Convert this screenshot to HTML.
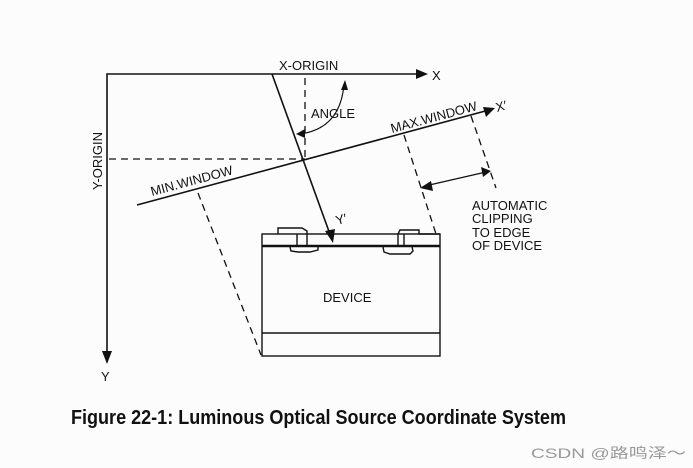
<!DOCTYPE html>
<html><head><meta charset="utf-8"><style>
html,body{margin:0;padding:0;background:#fcfcfc;}
svg{display:block;}
text{font-family:"Liberation Sans",sans-serif;fill:#111;}
</style></head><body>
<svg width="693" height="468" viewBox="0 0 693 468" xmlns="http://www.w3.org/2000/svg">
<rect width="693" height="468" fill="#fcfcfc"/>
<g stroke="#111" fill="none" stroke-width="1.6">
  <!-- axes -->
  <polyline points="107,362 107,74 418,74"/>
  <!-- Y' line -->
  <line x1="272" y1="74" x2="331" y2="237"/>
  <!-- X' line -->
  <line x1="137" y1="205" x2="489" y2="110"/>
  <!-- double arrow -->
  <line x1="425" y1="186" x2="486" y2="172" stroke-width="1.3"/>
  <!-- angle curve -->
  <path d="M344,84 C342,110 330,130 300,134" stroke-width="1.2"/>
</g>
<g stroke="#111" fill="none" stroke-width="1.3" stroke-dasharray="7,5">
  <line x1="305" y1="78" x2="305" y2="159"/>
  <line x1="109" y1="159" x2="305" y2="159"/>
  <line x1="198" y1="193" x2="261" y2="355"/>
  <line x1="404" y1="135" x2="436" y2="234"/>
  <line x1="471" y1="116" x2="496" y2="188"/>
</g>
<g fill="#111">
  <polygon points="428,74 416,69 416,79"/>
  <polygon points="107,364 102,351 112,351"/>
  <polygon points="333,243 325,231 335,229"/>
  <polygon points="495,108 483,107 486,117"/>
  <polygon points="420,188 431,181 433,191"/>
  <polygon points="491,171 481,167 483,177"/>
  <polygon points="345,80 341,90 348,90"/>
  <polygon points="296,134 305,129 305,138"/>
</g>
<!-- device -->
<g stroke="#111" fill="none" stroke-width="1.4">
  <rect x="262" y="234" width="178" height="122"/>
  <line x1="262" y1="333" x2="440" y2="333"/>
  <line x1="262" y1="246" x2="440" y2="246" stroke-width="2.6"/>
  <path d="M278,234 L278,228 L302,228 L307,231 L307,246"/>
  <line x1="297" y1="234" x2="297" y2="246"/>
  <path d="M290,247 L291,251 L298,252 L310,252 L318,250 L318,247"/>
  <path d="M398,246 L398,234 L400,230 L419,230 L419,234 L440,234"/>
  <line x1="404" y1="234" x2="404" y2="246"/>
  <path d="M383,247 L384,252 L390,254 L410,254 L413,251 L412,247"/>
</g>
<g font-size="13">
  <text x="279" y="70">X-ORIGIN</text>
  <text x="432" y="80">X</text>
  <text x="311" y="118">ANGLE</text>
  <text x="0" y="0" transform="translate(102,190) rotate(-90)">Y-ORIGIN</text>
  <text x="101" y="381">Y</text>
  <text x="0" y="0" transform="translate(392,133) rotate(-15)">MAX.WINDOW</text>
  <text x="0" y="0" transform="translate(152,196) rotate(-15)">MIN.WINDOW</text>
  <text x="497" y="112" transform="rotate(-15 497 112)">X′</text>
  <text x="337" y="225" transform="rotate(-15 337 225)">Y′</text>
  <text x="323" y="302">DEVICE</text>
  <text x="472" y="210">AUTOMATIC</text>
  <text x="472" y="223">CLIPPING</text>
  <text x="472" y="237">TO EDGE</text>
  <text x="472" y="250">OF DEVICE</text>
</g>
<text x="71" y="424" font-size="20" font-weight="bold" textLength="495" lengthAdjust="spacingAndGlyphs">Figure 22-1:  Luminous Optical Source Coordinate System</text>
<text x="531" y="458" font-size="14" style="fill:#999;font-family:'Liberation Sans','Noto Sans CJK SC',sans-serif" textLength="155" lengthAdjust="spacingAndGlyphs">CSDN @路鸣泽～</text>
</svg>
</body></html>
